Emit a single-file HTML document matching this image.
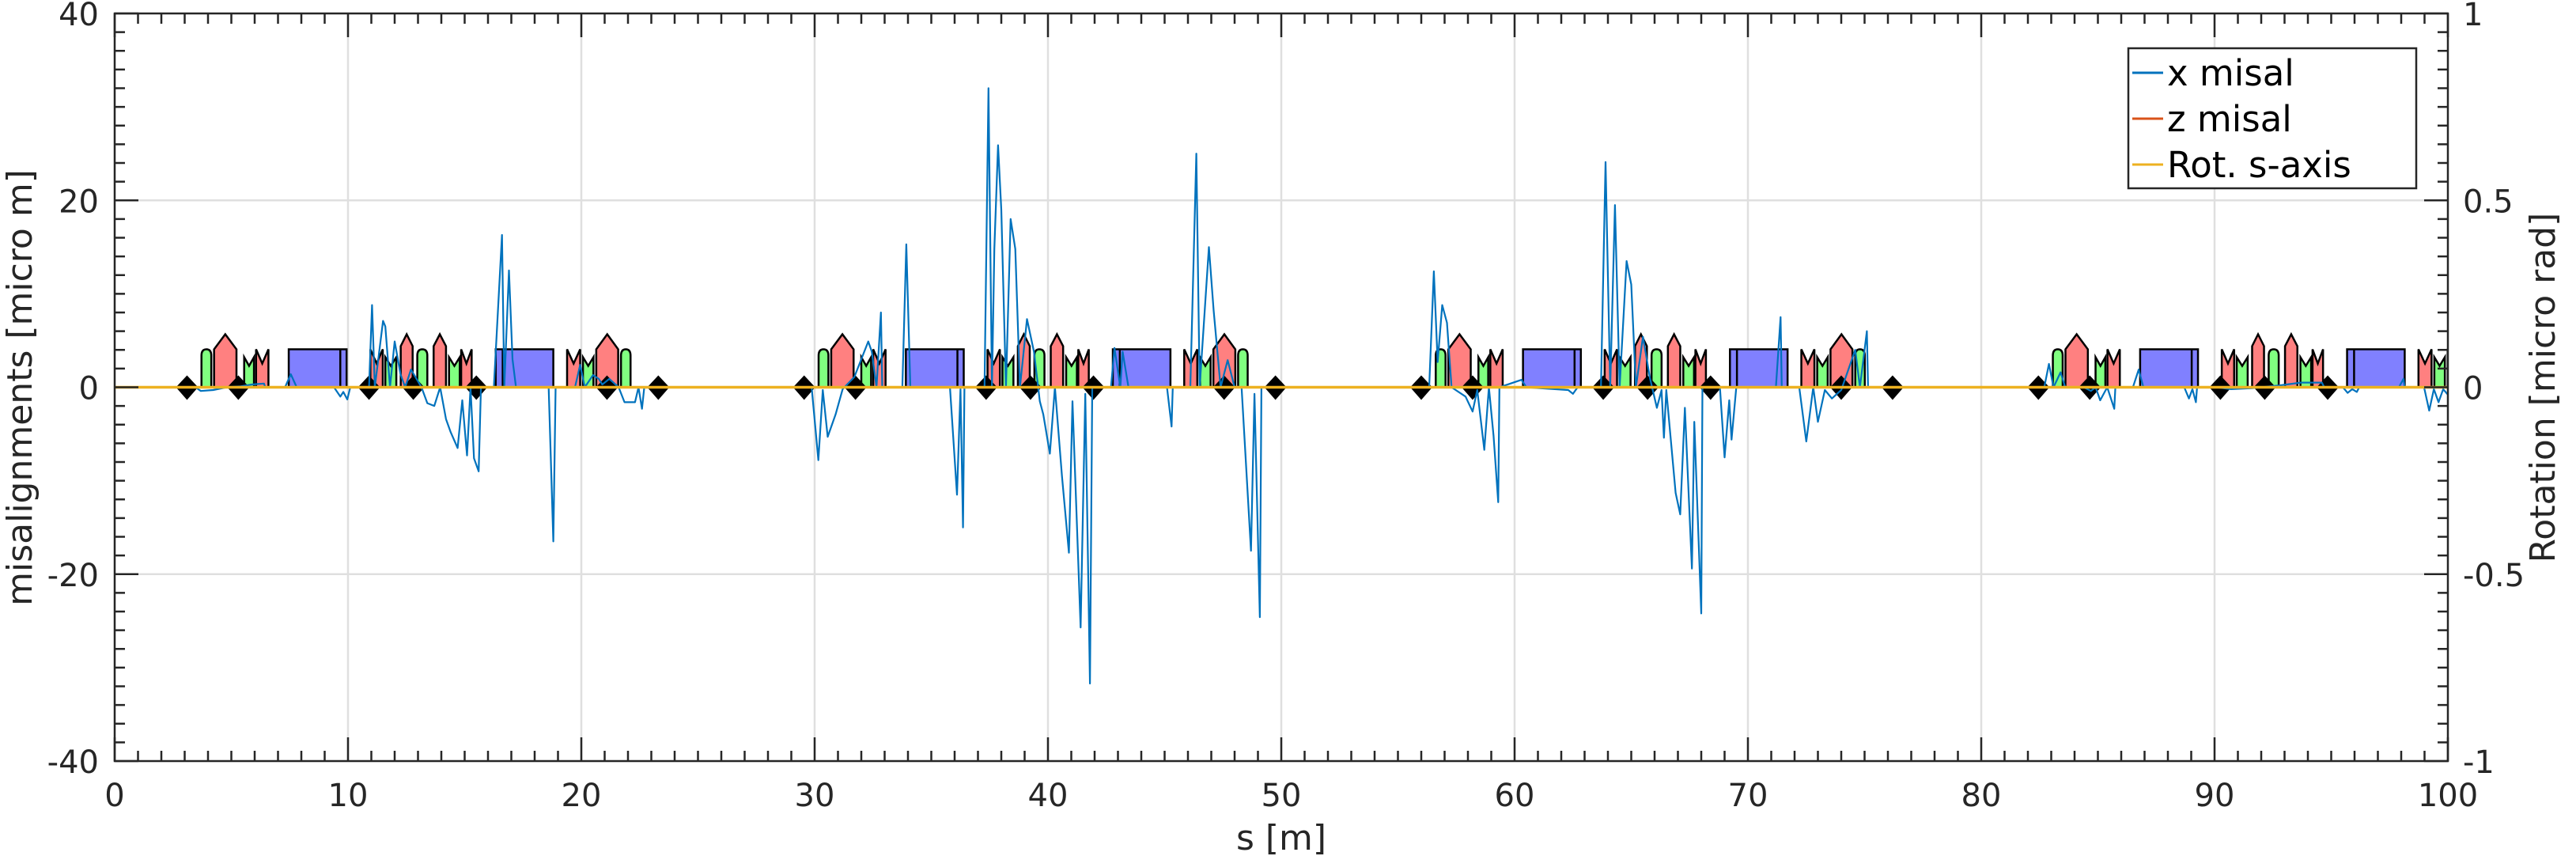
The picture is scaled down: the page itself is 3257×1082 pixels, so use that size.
<!DOCTYPE html>
<html><head><meta charset="utf-8"><title>Misalignments</title>
<style>
html,body{margin:0;padding:0;background:#fff;}
svg{display:block;font-family:"DejaVu Sans","Liberation Sans",sans-serif;}
</style></head>
<body>
<svg id="chart" width="3257" height="1082" viewBox="0 0 3257 1082" xmlns="http://www.w3.org/2000/svg">
<defs><clipPath id="plotclip"><rect x="145" y="17" width="2950" height="945"/></clipPath></defs>
<rect x="0" y="0" width="3257" height="1082" fill="#fff"/>
<g id="grid"></g>
<g id="elements" clip-path="url(#plotclip)"></g>
<g id="series" clip-path="url(#plotclip)"></g>
<g id="axes"></g>
<text x="1620" y="1074" font-size="44" text-anchor="middle" fill="#262626">s [m]</text>
<text transform="translate(40,490) rotate(-90)" font-size="44" text-anchor="middle" fill="#262626">misalignments [micro m]</text>
<text transform="translate(3230,490) rotate(-90)" font-size="44" text-anchor="middle" fill="#262626">Rotation [micro rad]</text>
<g id="legend">
  <rect x="2691" y="61" width="364" height="177" fill="#fff" stroke="#262626" stroke-width="2.5"/>
  <line x1="2696" x2="2735" y1="92" y2="92" stroke="#0072BD" stroke-width="3"/>
  <text x="2740" y="108" font-size="45" fill="#000">x misal</text>
  <line x1="2696" x2="2735" y1="150" y2="150" stroke="#D95319" stroke-width="3"/>
  <text x="2740" y="166" font-size="45" fill="#000">z misal</text>
  <line x1="2696" x2="2735" y1="208" y2="208" stroke="#EDB120" stroke-width="3"/>
  <text x="2740" y="224" font-size="45" fill="#000">Rot. s-axis</text>
</g>
<script>
// ---- data ----
const xTicks = [0,10,20,30,40,50,60,70,80,90,100];
const yTicks = [-40,-20,0,20,40];
const y2Ticks = [-1,-0.5,0,0.5,1];
const y2TickLabels = ["-1","-0.5","0","0.5","1"];
const xMisalS = [0,3.46,3.69,4.22,4.8,5.4,5.88,6.4,6.45,7.3,7.55,7.8,9.4,9.67,9.8,9.97,10.1,10.9,11.03,11.15,11.5,11.6,11.8,12.0,12.25,12.45,12.7,13.15,13.4,13.7,13.95,14.2,14.4,14.7,14.9,15.1,15.25,15.4,15.6,15.7,16.25,16.6,16.7,16.9,17.05,17.2,18.6,18.8,18.9,19.73,19.95,20.15,20.5,20.75,20.9,21.2,21.6,21.85,22.3,22.45,22.6,22.7,
29.87,30.16,30.35,30.56,30.9,31.2,31.7,32.3,32.45,32.65,32.84,32.9,33.76,33.93,34.1,35.8,36.1,36.25,36.36,36.42,37.28,37.45,37.6,37.7,37.86,38.0,38.2,38.4,38.6,38.8,39.1,39.4,39.65,39.8,40.08,40.3,40.6,40.9,41.05,41.4,41.6,41.8,41.9,42.7,42.85,43.1,43.2,43.45,45.1,45.3,45.35,46.1,46.36,46.5,46.9,47.1,47.4,47.7,48.0,48.3,48.7,48.85,49.08,49.15,
56.34,56.54,56.7,56.9,57.1,57.3,57.9,58.2,58.4,58.7,58.9,59.1,59.3,59.35,60.3,60.5,62.3,62.5,62.7,63.7,63.9,64.1,64.3,64.5,64.8,65.0,65.2,65.5,65.8,66.1,66.3,66.4,66.5,66.9,67.1,67.3,67.6,67.7,68.0,68.05,68.8,69.0,69.2,69.3,69.5,71.2,71.4,71.45,72.2,72.5,72.8,73.0,73.3,73.6,74.0,74.6,74.8,75.1,75.15,
82.7,82.9,83.1,83.4,83.6,84.4,84.7,84.9,85.1,85.4,85.7,85.75,86.5,86.75,86.95,88.7,88.9,89.05,89.2,89.25,90.1,90.7,91.6,92.8,93.7,94.6,94.7,95.5,95.7,95.9,96.1,96.2,97.9,98.1,98.15,98.98,99.2,99.4,99.6,99.8,100];
const xMisalV = [0,0,-0.4,-0.3,0,0.1,0.3,0.4,0,0,1.4,0,0,-1.0,-0.5,-1.3,0,0,8.8,0,7.1,6.5,0,4.9,1.4,0,1.9,0,-1.7,-2.0,0,-3.4,-4.8,-6.5,-1.4,-7.3,0,-7.6,-9,0,0,16.3,0,12.5,3,0,0,-16.5,0,0,2.4,0,1.3,0.9,0.3,0.9,0,-1.6,-1.6,0,-2.3,0,
0,-7.8,-0.3,-5.3,-2.9,-0.2,1.1,4.9,3.8,0,8.0,0,0,15.3,0,0,-11.5,-0.2,-15,0,0,32,0,14.8,25.9,19,0,18,14.8,0,7.3,3.8,-1.5,-2.9,-7.1,0,-9.5,-17.7,-1.5,-25.7,-0.7,-31.7,0,0,4.2,0,3.8,0,0,-4.2,0,0,25,0,15,8.2,0,2.9,0,0,-17.5,-0.7,-24.6,0,
0,12.4,2.7,8.8,6.9,0,-1,-2.6,-0.3,-6.7,0,-5.2,-12.3,0,0.8,0,-0.3,-0.7,0,0,24.1,0,19.5,0,13.5,11,0,5.4,1,-2.2,-0.3,-5.4,-0.3,-11.3,-13.6,-2.2,-19.4,-3.7,-24.2,0,0,-7.5,-1.4,-5.6,0,0,7.5,0,0,-5.8,0,-3.7,-0.3,-1.2,-0.3,4,0,6,0,
0,2.5,0,1.6,0,0,-0.4,0,-1.4,0,-2.3,0,0,1.9,0,0,-1.2,-0.2,-1.6,0,0,-0.2,-0.1,0.2,0.5,0.5,0,0,-0.6,-0.2,-0.5,0,0,0.9,0,0,-2.5,-0.2,-1.6,-0.2,-0.8];
const zMisalS = [0,100];
const zMisalV = [0,0];
const rotS = [0,100];
const rotV = [0,0];
// lattice cell (repeats)
const cellOffsets = [0,26.45,52.9,79.35];
const elemType  = ["G","R","m","M","B","M","m","R","G","R","m","M","B","M","m","R","G"];
const elemStart = [3.72,4.26,5.55,6.06,7.46,10.96,11.6,12.26,12.97,13.67,14.33,14.85,16.33,19.39,20.07,20.64,21.70];
const elemEnd   = [4.14,5.22,5.97,6.59,9.94,11.49,12.07,12.77,13.4,14.2,14.79,15.3,18.8,19.95,20.52,21.58,22.11];
const elemInner = [null,null,null,null,9.67,null,null,null,null,null,null,null,16.63,null,null,null,null];
const bpmBase = [3.1,5.3,10.9,12.8,15.5,21.1,23.3];

// ---- scales ----
const L=145,R=3095,T=17,B=962;
const sx = s => L + (s-0)/(100-0)*(R-L);
const sy = v => T + (40-v)/80*(B-T);
const sy2 = v => T + (1-v)/2*(B-T);
const NS="http://www.w3.org/2000/svg";
function mk(tag, attrs, parent){const e=document.createElementNS(NS,tag);for(const k in attrs)e.setAttribute(k,attrs[k]);parent.appendChild(e);return e;}

const grid=document.getElementById('grid');
xTicks.forEach(t=>{ if(t>0&&t<100){
  const l=mk('line',{x1:sx(t),x2:sx(t),y1:T,y2:B,stroke:'#dfdfdf','stroke-width':2.5},grid);
  
  
}});
yTicks.forEach(t=>{ if(t>-40&&t<40){
  const l=mk('line',{x1:L,x2:R,y1:sy(t),y2:sy(t),stroke:'#dfdfdf','stroke-width':2.5},grid);
  
  
}});

// ---- lattice elements ----
const eg=document.getElementById('elements');
const y0=sy(0);
const fills={G:'#80ff80',m:'#80ff80',R:'#ff8080',M:'#ff8080',B:'#8080ff'};
cellOffsets.forEach(off=>{
  elemType.forEach((tp,i)=>{
    const a=sx(elemStart[i]+off), b=sx(elemEnd[i]+off), c=(a+b)/2;
    let d;
    if(tp==='B'){ d=`M${a},${y0}L${a},${y0-48}L${b},${y0-48}L${b},${y0}Z`; }
    else if(tp==='G'){ d=`M${a},${y0}L${a},${y0-40}Q${a},${y0-48} ${c},${y0-48}Q${b},${y0-48} ${b},${y0-40}L${b},${y0}Z`; }
    else if(tp==='R'){ const sh=(b-a)>25?48:52; d=`M${a},${y0}L${a},${y0-sh}L${c},${y0-67}L${b},${y0-sh}L${b},${y0}Z`; }
    else if(tp==='M'){ d=`M${a},${y0}L${a},${y0-48}L${c},${y0-30}L${b},${y0-48}L${b},${y0}Z`; }
    else { d=`M${a},${y0}L${a},${y0-38}L${c},${y0-27}L${b},${y0-38}L${b},${y0}Z`; }
    const p=mk('path',{d:d,fill:fills[tp],stroke:'#000','stroke-width':2.5,'stroke-linejoin':'miter'},eg);
    
    
    if(elemInner[i]!==null){
      const ix=sx(elemInner[i]+off);
      const ln=mk('line',{x1:ix,x2:ix,y1:y0,y2:y0-48,stroke:'#000','stroke-width':2.5},eg);
      
      
    }
  });
  bpmBase.forEach(s=>{
    const x=sx(s+off);
    const dm=mk('path',{d:`M${x-14},${y0}L${x},${y0-15}L${x+14},${y0}L${x},${y0+16}Z`,fill:'#000'},eg);
    
    
  });
});

// ---- series ----
const sg=document.getElementById('series');
function poly(S,V,scaleY,color,w,name){
  const pts=S.map((s,i)=>sx(s).toFixed(1)+','+scaleY(V[i]).toFixed(1)).join(' ');
  const pl=mk('polyline',{points:pts,fill:'none',stroke:color,'stroke-width':w,'stroke-linejoin':'round'},sg);
  
  
}
poly(xMisalS,xMisalV,sy,'#0072BD',2.2,'x-misal-line');
poly(zMisalS,zMisalV,sy,'#D95319',3,'z-misal-line');
poly(rotS,rotV,sy2,'#EDB120',3.5,'rot-s-axis-line');

// ---- axes ----
const ag=document.getElementById('axes');
const box=mk('rect',{x:L,y:T,width:R-L,height:B-T,fill:'none',stroke:'#262626','stroke-width':2.5},ag);


let tk='';
for(let s=0;s<=100;s+=1){const x=sx(s);const len=(s%10===0)?30:13;tk+=`M${x},${B}v${-len}M${x},${T}v${len}`;}
for(let v=-40;v<=40;v+=2){const y=sy(v);const len=(v%20===0)?30:13;tk+=`M${L},${y}h${len}M${R},${y}h${-len}`;}
const tp=mk('path',{d:tk,stroke:'#262626','stroke-width':2.5,fill:'none'},ag);


xTicks.forEach(t=>{
  const e=mk('text',{x:sx(t),y:1019,'font-size':40,'text-anchor':'middle',fill:'#262626'},ag);
  e.textContent=String(t);
  
  
});
yTicks.forEach(t=>{
  const e=mk('text',{x:125,y:sy(t)+15,'font-size':40,'text-anchor':'end',fill:'#262626'},ag);
  e.textContent=String(t);
  
  
});
y2Ticks.forEach((t,i)=>{
  const e=mk('text',{x:3114,y:sy2(t)+15,'font-size':40,'text-anchor':'start',fill:'#262626'},ag);
  e.textContent=y2TickLabels[i];
  
  
});
</script>
</svg>
</body></html>
